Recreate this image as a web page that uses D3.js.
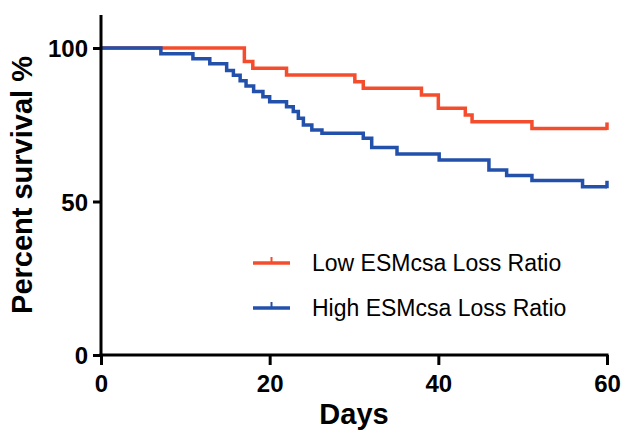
<!DOCTYPE html>
<html>
<head>
<meta charset="utf-8">
<script src="https://cdn.jsdelivr.net/npm/d3@7"></script>
<style>
    body { margin: 0; background: #fff; }
    text { font-family: "Liberation Sans", Arial, sans-serif; }
    .tick text { font-weight: bold; font-size: 24px; fill: #000; }
    .axis-title { font-weight: bold; font-size: 29px; }
    .legend-label { font-size: 23px; }
</style>
</head>
<body>
<div id="container"></div>
<script>
const width = 623, height = 432;
const margin = ({top: 15, right: 16, bottom: 77, left: 101});

// Kaplan-Meier steps (days, percent survival)
const lowDays = [0, 17, 18, 22, 30.1, 31.1, 38, 40, 43.2, 44, 51.1, 60];
const lowSurv = [100, 95.6, 93.4, 91.2, 89.0, 86.9, 84.7, 80.4, 78.2, 76.0, 73.8, 73.8];

const highDays = [0, 7.1, 10.9, 12.9, 14.9, 15.7, 16.5, 17.2, 18.1, 19.2, 20, 22, 22.8, 23.4, 24, 25, 26.2, 31.1, 32.1, 35.1, 40.1, 46, 48.1, 51.1, 57.1, 60];
const highSurv = [100, 98.1, 96.5, 94.9, 92.7, 91.1, 89.3, 87.6, 85.8, 84.1, 82.5, 80.9, 79.3, 77.1, 74.9, 73.3, 72.2, 70.6, 67.6, 65.5, 63.5, 60.3, 58.5, 56.8, 54.8, 54.8];

const xTicks = [0, 20, 40, 60];
const yTicks = [0, 50, 100];
const seriesNames = ["Low ESMcsa Loss Ratio", "High ESMcsa Loss Ratio"];
const seriesColors = ["#f44d2d", "#2350ab"];

function buildSeries() {
    return [
        {name: seriesNames[0], color: seriesColors[0], pts: lowDays.map((d, i) => [d, lowSurv[i]])},
        {name: seriesNames[1], color: seriesColors[1], pts: highDays.map((d, i) => [d, highSurv[i]])}
    ];
}

function survival() {
    const series = buildSeries();

    let svg = d3.select("#container")
        .append("svg")
        .attr("width", width)
        .attr("height", height);

    let x = d3.scaleLinear().domain([0, 60]).range([margin.left, width - margin.right]);
    let y = d3.scaleLinear().domain([0, 100]).range([height - margin.bottom, 48]);

    let line = d3.line()
        .curve(d3.curveStepAfter)
        .x(d => x(d[0]))
        .y(d => y(d[1]));

    let curves = svg.append("g").attr("id", "curves");

    curves.selectAll(".km")
        .data(series)
        .enter()
        .append("path")
        .attr("class", "km")
        .attr("fill", "none")
        .attr("stroke", d => d.color)
        .attr("stroke-width", 3.5)
        .attr("d", d => line(d.pts));

    // censor tick at end of follow-up
    curves.selectAll(".censor")
        .data(series)
        .enter()
        .append("line")
        .attr("class", "censor")
        .attr("stroke", d => d.color)
        .attr("stroke-width", 3.5)
        .attr("x1", d => x(d.pts[d.pts.length - 1][0]))
        .attr("x2", d => x(d.pts[d.pts.length - 1][0]))
        .attr("y1", d => y(d.pts[d.pts.length - 1][1]) + 1.5)
        .attr("y2", d => y(d.pts[d.pts.length - 1][1]) - 6);

    let xAxis = svg.append("g")
        .attr("transform", `translate(0,${y(0)})`)
        .call(d3.axisBottom(x).tickValues(xTicks).tickSize(10).tickSizeOuter(0).tickPadding(10));

    let yAxis = svg.append("g")
        .attr("transform", `translate(${x(0)},0)`)
        .call(d3.axisLeft(y).tickValues(yTicks).tickSize(8).tickSizeOuter(0).tickPadding(5));

    [xAxis, yAxis].forEach(a => {
        a.select(".domain").attr("stroke", "#000").attr("stroke-width", 3);
        a.selectAll(".tick line").attr("stroke", "#000").attr("stroke-width", 3);
    });
    xAxis.select(".domain").attr("d", `M${x(0) - 1.5},0H${x(60) + 1.5}`);
    yAxis.select(".domain").attr("d", `M0,${y(0) + 1.5}V${margin.top}`);
    yAxis.selectAll(".tick text").attr("dy", "0.36em");

    svg.append("text")
        .attr("class", "axis-title")
        .attr("text-anchor", "middle")
        .attr("x", (x(0) + x(60)) / 2)
        .attr("y", 424)
        .text("Days");

    svg.append("text")
        .attr("class", "axis-title")
        .attr("text-anchor", "middle")
        .attr("transform", `translate(32,${(y(0) + margin.top) / 2}) rotate(-90)`)
        .text("Percent survival %");

    let legend = svg.append("g")
        .selectAll(".legend")
        .data(series)
        .enter()
        .append("g")
        .attr("class", "legend")
        .attr("transform", (d, i) => `translate(253,${263 + i * 45})`);

    legend.append("line")
        .attr("stroke", d => d.color)
        .attr("stroke-width", 3.5)
        .attr("x1", 0).attr("x2", 37)
        .attr("y1", 0).attr("y2", 0);

    legend.append("line")
        .attr("stroke", d => d.color)
        .attr("stroke-width", 2)
        .attr("x1", 18.5).attr("x2", 18.5)
        .attr("y1", 0).attr("y2", -6);

    legend.append("text")
        .attr("class", "legend-label")
        .attr("x", 59)
        .attr("y", 8)
        .text(d => d.name);
}

survival();
</script>
</body>
</html>
